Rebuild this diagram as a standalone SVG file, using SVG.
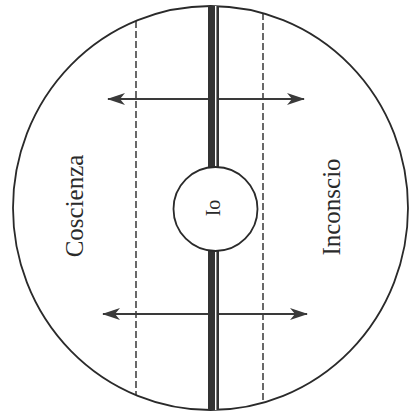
<svg xmlns="http://www.w3.org/2000/svg" width="412" height="415" viewBox="0 0 412 415">
<style>
.outline{fill:none;stroke:#2a2a2a;stroke-width:1.8}
.dash{fill:none;stroke:#2a2a2a;stroke-width:1.4;stroke-dasharray:7 3}
.arrow{fill:none;stroke:#3a3a3a;stroke-width:1.8}
.bar{fill:#333}
.lbl{font-family:"Liberation Serif","DejaVu Serif",serif;fill:#2a2a2a;text-anchor:middle}
</style>
<defs>
<marker id="ah" viewBox="0 0 18 12" refX="17" refY="6" markerWidth="18" markerHeight="12" markerUnits="userSpaceOnUse" orient="auto-start-reverse">
<path d="M0,0 L18,6 L0,12 L5,6 z" fill="#3a3a3a"/>
</marker>
</defs>
<rect width="412" height="415" fill="#fff"/>
<g id="outer">
<ellipse class="outline" cx="210.5" cy="208" rx="197.5" ry="202"/>
</g>
<g id="connectors">
<line class="dash" x1="136" y1="21" x2="136" y2="395"/>
<line class="dash" x1="263" y1="13" x2="263" y2="403"/>
<line class="arrow" x1="108" y1="99" x2="304" y2="99" marker-start="url(#ah)" marker-end="url(#ah)"/>
<line class="arrow" x1="103" y1="314" x2="307" y2="314" marker-start="url(#ah)" marker-end="url(#ah)"/>
</g>
<g id="axis">
<rect class="bar" x="208" y="6" width="11" height="163"/>
<rect class="bar" x="208" y="249" width="11" height="161"/>
<rect x="215" y="6" width="1.4" height="163" fill="#fff"/>
<rect x="215" y="249" width="1.4" height="161" fill="#fff"/>
</g>
<g id="io">
<circle cx="215.5" cy="209" r="42" fill="#fff" stroke="#2a2a2a" stroke-width="1.8"/>
<text class="lbl" font-size="20" transform="translate(220,208) rotate(-90)">Io</text>
</g>
<g id="coscienza">
<text class="lbl" font-size="25" transform="translate(83,206) rotate(-90)">Coscienza</text>
</g>
<g id="inconscio">
<text class="lbl" font-size="25" transform="translate(340,207) rotate(-90)">Inconscio</text>
</g>
</svg>
